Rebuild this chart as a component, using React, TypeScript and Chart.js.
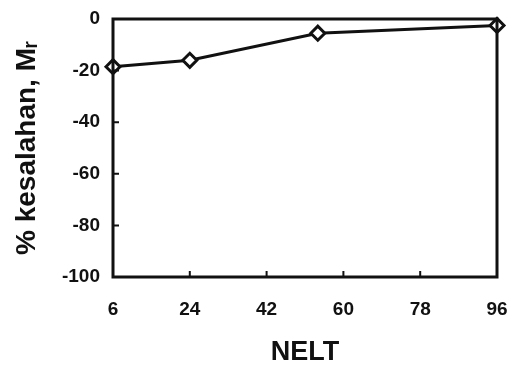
import React, { useEffect, useRef } from "react";
import { Chart, registerables } from "chart.js";

Chart.register(...registerables);

const nelt = [6, 24, 54, 96];
const errorPct = [-18.5, -16, -5.5, -2.5];
const xTicks = [6, 24, 42, 60, 78, 96];
const yTicks = [0, -20, -40, -60, -80, -100];
const xTitle = "NELT";
const yTitle = "% kesalahan, Mᵣ";

const FONT = "'Liberation Sans', Arial, Helvetica, sans-serif";

const framePlugin = {
  id: "frameAndInnerTicks",
  afterDatasetsDraw(chart: any) {
    const { ctx, chartArea, scales } = chart;
    const { left, right, top, bottom } = chartArea;
    ctx.save();
    ctx.strokeStyle = "#111";
    ctx.lineWidth = 3;
    ctx.strokeRect(left, top, right - left, bottom - top);
    ctx.lineWidth = 2;
    ctx.beginPath();
    xTicks.forEach((v) => {
      if (v === xTicks[0] || v === xTicks[xTicks.length - 1]) return;
      const x = scales.x.getPixelForValue(v);
      ctx.moveTo(x, bottom);
      ctx.lineTo(x, bottom - 6);
    });
    yTicks.forEach((v) => {
      if (v === 0 || v === -100) return;
      const y = scales.y.getPixelForValue(v);
      ctx.moveTo(left, y);
      ctx.lineTo(left + 6, y);
    });
    ctx.stroke();
    ctx.restore();
  },
};

export default function App() {
  const ref = useRef<HTMLCanvasElement | null>(null);

  useEffect(() => {
    document.body.style.margin = "0";
    if (!ref.current) return;
    const chart = new Chart(ref.current, {
      type: "line",
      data: {
        datasets: [
          {
            data: nelt.map((x, i) => ({ x, y: errorPct[i] })),
            borderColor: "#111",
            borderWidth: 3,
            pointStyle: "rectRot",
            pointRadius: 7,
            pointBorderWidth: 3,
            pointBackgroundColor: "#fff",
            pointBorderColor: "#111",
            clip: false as any,
            tension: 0,
          },
        ],
      },
      options: {
        animation: false,
        responsive: false,
        maintainAspectRatio: false,
        layout: { padding: { top: 19, right: 19, left: 0, bottom: 0 } },
        plugins: { legend: { display: false }, tooltip: { enabled: false } },
        scales: {
          x: {
            type: "linear",
            min: 6,
            max: 96,
            afterBuildTicks: (s: any) => {
              s.ticks = xTicks.map((v) => ({ value: v }));
            },
            afterFit: (s: any) => {
              s.height = 88;
              s.paddingLeft = 0;
              s.paddingRight = 0;
            },
            grid: { display: false, drawTicks: false },
            border: { display: false },
            ticks: {
              color: "#111",
              padding: 21,
              font: { family: FONT, size: 19, weight: "bold" },
            },
            title: {
              display: true,
              text: xTitle,
              color: "#111",
              padding: { top: 0, bottom: -4 },
              font: { family: FONT, size: 27, weight: "bold" },
            },
          },
          y: {
            type: "linear",
            min: -100,
            max: 0,
            afterBuildTicks: (s: any) => {
              s.ticks = yTicks.map((v) => ({ value: v }));
            },
            afterFit: (s: any) => {
              s.width = 113;
              s.paddingTop = 0;
              s.paddingBottom = 0;
            },
            grid: { display: false, drawTicks: false },
            border: { display: false },
            ticks: {
              color: "#111",
              padding: 13,
              font: { family: FONT, size: 19, weight: "bold" },
            },
            title: {
              display: true,
              text: yTitle,
              color: "#111",
              padding: { top: 10, bottom: 0 },
              font: { family: FONT, size: 28, weight: "bold" },
            },
          },
        },
      },
      plugins: [framePlugin],
    });
    return () => chart.destroy();
  }, []);

  return (
    <div style={{ position: "fixed", left: 0, top: 0, width: 516, height: 365, background: "#fff" }}>
      <canvas ref={ref} width={516} height={365} />
    </div>
  );
}
